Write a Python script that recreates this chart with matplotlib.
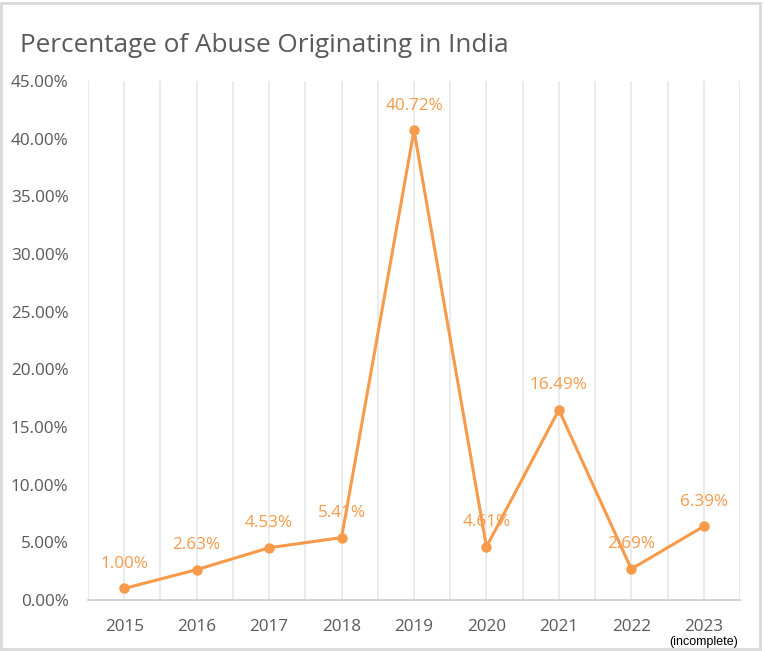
import matplotlib
matplotlib.use("Agg")
import matplotlib.pyplot as plt
from matplotlib.patches import Rectangle

years = ["2015", "2016", "2017", "2018", "2019", "2020", "2021", "2022", "2023"]
values = [1.00, 2.63, 4.53, 5.41, 40.72, 4.61, 16.49, 2.69, 6.39]
yticks = [0, 5, 10, 15, 20, 25, 30, 35, 40, 45]

ORANGE = "#F79A4A"
GREY = "#595959"
plt.rcParams["font.family"] = ["Open Sans", "DejaVu Sans"]

fig = plt.figure(figsize=(7.64, 6.51), dpi=100)
ax = fig.add_axes([88/764, 1-600/651, 652/764, 519/651])

x = list(range(len(years)))
ax.plot(x, values, color=ORANGE, lw=2.2, marker="o", ms=6.5, zorder=3)
for xi, v in zip(x, values):
    ax.annotate(f"{v:.2f}%", (xi, v), xytext=(0, 12), textcoords="offset points",
                ha="center", va="bottom", color=ORANGE, fontsize=12.3, zorder=4)

ax.set_xlim(-0.5, len(years) - 0.5)
ax.set_ylim(0, 45)
ax.set_yticks(yticks)
ax.set_yticklabels([f"{t:.2f}%" for t in yticks])
ax.set_xticks(x)
ax.set_xticklabels(years)
for g in [i * 0.5 - 0.5 for i in range(2 * len(years) + 1)]:
    ax.axvline(g, color="#E8E8E8", lw=1.2, zorder=1)
for s in ["top", "right", "left"]:
    ax.spines[s].set_visible(False)
ax.spines["bottom"].set_color("#D0D0D0")
ax.spines["bottom"].set_linewidth(1.3)
ax.tick_params(axis="both", length=0, colors=GREY, labelsize=12.3)
ax.tick_params(axis="x", pad=14)
ax.tick_params(axis="y", pad=14)

fig.text(20/764, 1-45/651, "Percentage of Abuse Originating in India", fontsize=18.8,
         color=GREY, va="center", ha="left")
ax.text(8, -0.08, "(incomplete)", transform=ax.get_xaxis_transform(), ha="center",
        va="center", fontsize=9, color="black", family=["Liberation Sans", "DejaVu Sans"])

fig.patches.append(Rectangle((0.001, 0.003), 0.994, 0.993, transform=fig.transFigure,
                             fill=False, edgecolor="#D9D9D9", lw=2))
fig.savefig("out.png", dpi=100)
